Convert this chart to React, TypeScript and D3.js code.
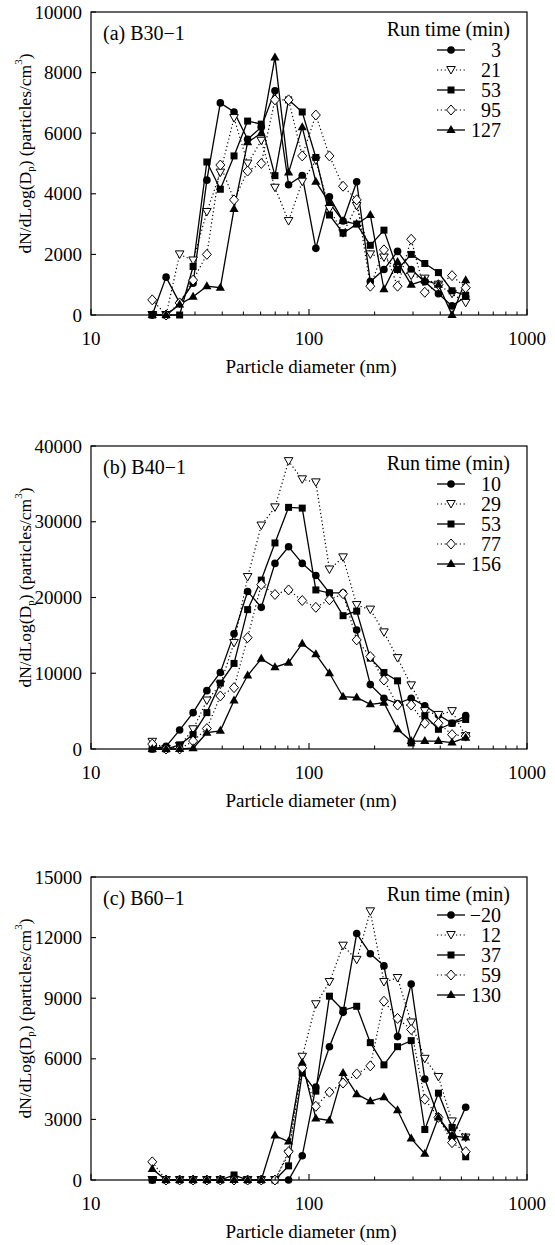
import React from "react";
import * as d3 from "d3";

// Particle diameter bins (nm)
const DIAMETERS = [19.1, 22.1, 25.5, 29.4, 34.0, 39.2, 45.3, 52.3, 60.4, 69.8, 80.6, 93.1, 107.5, 124.1, 143.3, 165.5, 191.1, 220.7, 254.8, 294.3, 339.8, 392.4, 453.1, 523.3];
const X_MAJOR = [10, 100, 1000];
const X_MINOR = [20, 30, 40, 50, 60, 70, 80, 90, 200, 300, 400, 500, 600, 700, 800, 900];

// Panel (a) B30-1
const A_LABELS = ["3", "21", "53", "95", "127"];
const A_3 = [0, 1250, 400, 1050, 4450, 7000, 6700, 5800, 6200, 7400, 4300, 4600, 2200, 3900, 3100, 4400, 1100, 1500, 2100, 1500, 1100, 700, 300, 600];
const A_21 = [0, 0, 2000, 1800, 3400, 4700, 6500, 5000, 5750, 4200, 3100, 4400, 5100, 3500, 2700, 3600, 2000, 1900, 1500, 1300, 1200, 1000, 700, 400];
const A_53 = [0, 0, 0, 1600, 5050, 4150, 5250, 6400, 6300, 4600, 7100, 6700, 5200, 3300, 2700, 3000, 2300, 2800, 1500, 2000, 1700, 1400, 800, 650];
const A_95 = [500, 0, 400, 1150, 2000, 4950, 3800, 4750, 5000, 7100, 7100, 5250, 6600, 5250, 4250, 3800, 950, 2150, 950, 2500, 750, 1000, 1300, 900];
const A_127 = [0, 0, 350, 600, 950, 900, 3500, 5700, 6000, 8500, 4700, 6200, 4400, 3700, 3100, 3000, 3300, 850, 1750, 1000, 1150, 1000, 0, 1150];
const A_YTICKS = [0, 2000, 4000, 6000, 8000, 10000];

// Panel (b) B40-1
const B_LABELS = ["10", "29", "53", "77", "156"];
const B_10 = [0, 350, 2500, 4800, 7700, 10100, 15200, 20800, 18700, 24500, 26700, 24500, 22900, 20600, 20600, 15700, 8500, 6700, 6000, 6700, 5700, 4500, 3400, 4400];
const B_29 = [950, 0, 400, 2600, 6400, 8500, 14000, 22700, 29500, 31900, 38000, 35600, 35200, 23700, 25300, 19000, 18400, 15400, 12000, 8400, 5000, 4500, 5000, 1700];
const B_53 = [0, 0, 550, 1900, 4800, 8700, 11300, 18400, 22300, 27200, 31900, 31800, 21000, 20600, 17600, 18200, 12000, 10100, 9000, 800, 4400, 2600, 3400, 3900];
const B_77 = [650, 0, 0, 1050, 2700, 7000, 8100, 14700, 21700, 20400, 21000, 19600, 18700, 19700, 20500, 14400, 12200, 9100, 5800, 5800, 3400, 3400, 1900, 1700];
const B_156 = [0, 0, 0, 100, 2150, 2400, 6400, 9700, 11900, 10800, 11400, 13900, 12500, 10000, 6900, 6800, 5900, 6100, 2600, 1050, 1050, 1050, 850, 1500];
const B_YTICKS = [0, 10000, 20000, 30000, 40000];

// Panel (c) B60-1
const C_LABELS = ["\u221220", "12", "37", "59", "130"];
const C_M20 = [0, 0, 0, 0, 0, 0, 0, 0, 0, 0, 0, 1200, 4600, 6600, 8300, 12200, 11200, 10600, 7100, 9700, 5000, 3100, 2100, 3600];
const C_12 = [0, 0, 0, 0, 0, 0, 0, 0, 0, 0, 1300, 6100, 8700, 9800, 11600, 10900, 13300, 9800, 10000, 7800, 6000, 5100, 2900, 2100];
const C_37 = [0, 0, 0, 0, 0, 0, 250, 0, 0, 0, 700, 5300, 4400, 9100, 8400, 8600, 6800, 5700, 6600, 6900, 2500, 4300, 2600, 1150];
const C_59 = [900, 0, 0, 0, 0, 0, 0, 0, 0, 0, 1400, 5550, 3650, 4350, 4800, 5250, 5650, 8850, 8000, 7450, 4000, 3100, 1850, 1400];
const C_130 = [550, 0, 0, 0, 0, 0, 0, 0, 0, 2200, 1900, 5800, 3050, 2950, 5300, 4250, 3900, 4100, 3450, 2050, 1300, 3100, 2200, 2100];
const C_YTICKS = [0, 3000, 6000, 9000, 12000, 15000];

const PANELS = [
  { title: "(a) B30\u22121", labels: A_LABELS, series: [A_3, A_21, A_53, A_95, A_127], yTicks: A_YTICKS, top: 12 },
  { title: "(b) B40\u22121", labels: B_LABELS, series: [B_10, B_29, B_53, B_77, B_156], yTicks: B_YTICKS, top: 446 },
  { title: "(c) B60\u22121", labels: C_LABELS, series: [C_M20, C_12, C_37, C_59, C_130], yTicks: C_YTICKS, top: 877 },
];

const STYLES = [
  { shape: "circle", dotted: false },
  { shape: "tridown", dotted: true },
  { shape: "square", dotted: false },
  { shape: "diamond", dotted: true },
  { shape: "triup", dotted: false },
];

const L = 91;
const R = 527;
const H = 303;
const FONT = "'Liberation Serif', 'Times New Roman', serif";

function Marker({ shape, cx, cy }: { shape: string; cx: number; cy: number }) {
  const sw = 1;
  if (shape === "circle") return <circle cx={cx} cy={cy} r={3.8} fill="black" />;
  if (shape === "square") return <rect x={cx - 3.5} y={cy - 3.5} width={7} height={7} fill="black" />;
  if (shape === "triup")
    return <path d={`M${cx},${cy - 5}L${cx + 4.6},${cy + 3}L${cx - 4.6},${cy + 3}Z`} fill="black" />;
  if (shape === "tridown")
    return (
      <path d={`M${cx - 4.3},${cy - 3.5}L${cx + 4.3},${cy - 3.5}L${cx},${cy + 4}Z`} fill="white" stroke="black" strokeWidth={sw} />
    );
  return (
    <path d={`M${cx},${cy - 5}L${cx + 4.5},${cy}L${cx},${cy + 5}L${cx - 4.5},${cy}Z`} fill="white" stroke="black" strokeWidth={sw} />
  );
}

function Panel({ p }: { p: (typeof PANELS)[number] }) {
  const bottom = p.top + H;
  const x = d3.scaleLog().domain([10, 1000]).range([L, R]);
  const yMax = p.yTicks[p.yTicks.length - 1];
  const y = d3.scaleLinear().domain([0, yMax]).range([bottom, p.top]);
  const line = d3
    .line<number>()
    .x((_, i) => x(DIAMETERS[i]))
    .y((v) => y(v));
  const cy = p.top + H / 2;
  return (
    <g>
      {p.series.map((s, k) => (
        <path
          key={"l" + k}
          d={line(s) || ""}
          fill="none"
          stroke="black"
          strokeWidth={STYLES[k].dotted ? 1.2 : 1.3}
          strokeDasharray={STYLES[k].dotted ? "1.2,2.6" : undefined}
        />
      ))}
      {p.series.map((s, k) => (
        <g key={"m" + k}>
          {s.map((v, i) => (
            <Marker key={i} shape={STYLES[k].shape} cx={x(DIAMETERS[i])} cy={y(v)} />
          ))}
        </g>
      ))}
      <rect x={L} y={p.top} width={R - L} height={H} fill="none" stroke="black" strokeWidth={1.2} />
      {X_MAJOR.map((t) => (
        <line key={"xM" + t} x1={x(t)} x2={x(t)} y1={bottom} y2={bottom - 6} stroke="black" strokeWidth={1.1} />
      ))}
      {X_MINOR.map((t) => (
        <line key={"xm" + t} x1={x(t)} x2={x(t)} y1={bottom} y2={bottom - 3.5} stroke="black" strokeWidth={1} />
      ))}
      {X_MAJOR.map((t) => (
        <text key={"xl" + t} x={x(t)} y={bottom + 23} textAnchor="middle" dominantBaseline="central" fontSize={19} fontFamily={FONT}>
          {t}
        </text>
      ))}
      <text x={311} y={bottom + 51} textAnchor="middle" dominantBaseline="central" fontSize={19} fontFamily={FONT}>
        Particle diameter (nm)
      </text>
      {p.yTicks.map((t) => (
        <g key={"y" + t}>
          <line x1={L} x2={L + 5} y1={y(t)} y2={y(t)} stroke="black" strokeWidth={1.1} />
          <text x={82} y={y(t)} textAnchor="end" dominantBaseline="central" fontSize={19} fontFamily={FONT}>
            {t}
          </text>
        </g>
      ))}
      <text
        transform={`translate(25,${cy - 10}) rotate(-90)`}
        textAnchor="middle"
        dominantBaseline="central"
        fontSize={17.5}
        fontFamily={FONT}
      >
        dN/dLog(D<tspan fontSize={11} dy={5}>p</tspan>
        <tspan dy={-5}>) (particles/cm</tspan>
        <tspan fontSize={11} dy={-7}>3</tspan>
        <tspan dy={7}>)</tspan>
      </text>
      <text x={103} y={p.top + 21} dominantBaseline="central" fontSize={20} fontFamily={FONT}>
        {p.title}
      </text>
      <text x={510} y={p.top + 17} textAnchor="end" dominantBaseline="central" fontSize={20} fontFamily={FONT}>
        Run time (min)
      </text>
      {p.labels.map((lab, k) => {
        const ly = p.top + 38 + k * 20;
        return (
          <g key={"lg" + k}>
            <line
              x1={437}
              x2={465}
              y1={ly}
              y2={ly}
              stroke="black"
              strokeWidth={STYLES[k].dotted ? 1.2 : 1.3}
              strokeDasharray={STYLES[k].dotted ? "1.2,2.6" : undefined}
            />
            <Marker shape={STYLES[k].shape} cx={451} cy={ly} />
            <text x={501} y={ly} textAnchor="end" dominantBaseline="central" fontSize={20} fontFamily={FONT}>
              {lab}
            </text>
          </g>
        );
      })}
    </g>
  );
}

export default function App() {
  return (
    <svg
      width={555}
      height={1245}
      viewBox="0 0 555 1245"
      style={{ position: "absolute", left: 0, top: 0, background: "white" }}
    >
      <rect x={0} y={0} width={555} height={1245} fill="white" />
      {PANELS.map((p, i) => (
        <Panel key={i} p={p} />
      ))}
    </svg>
  );
}
